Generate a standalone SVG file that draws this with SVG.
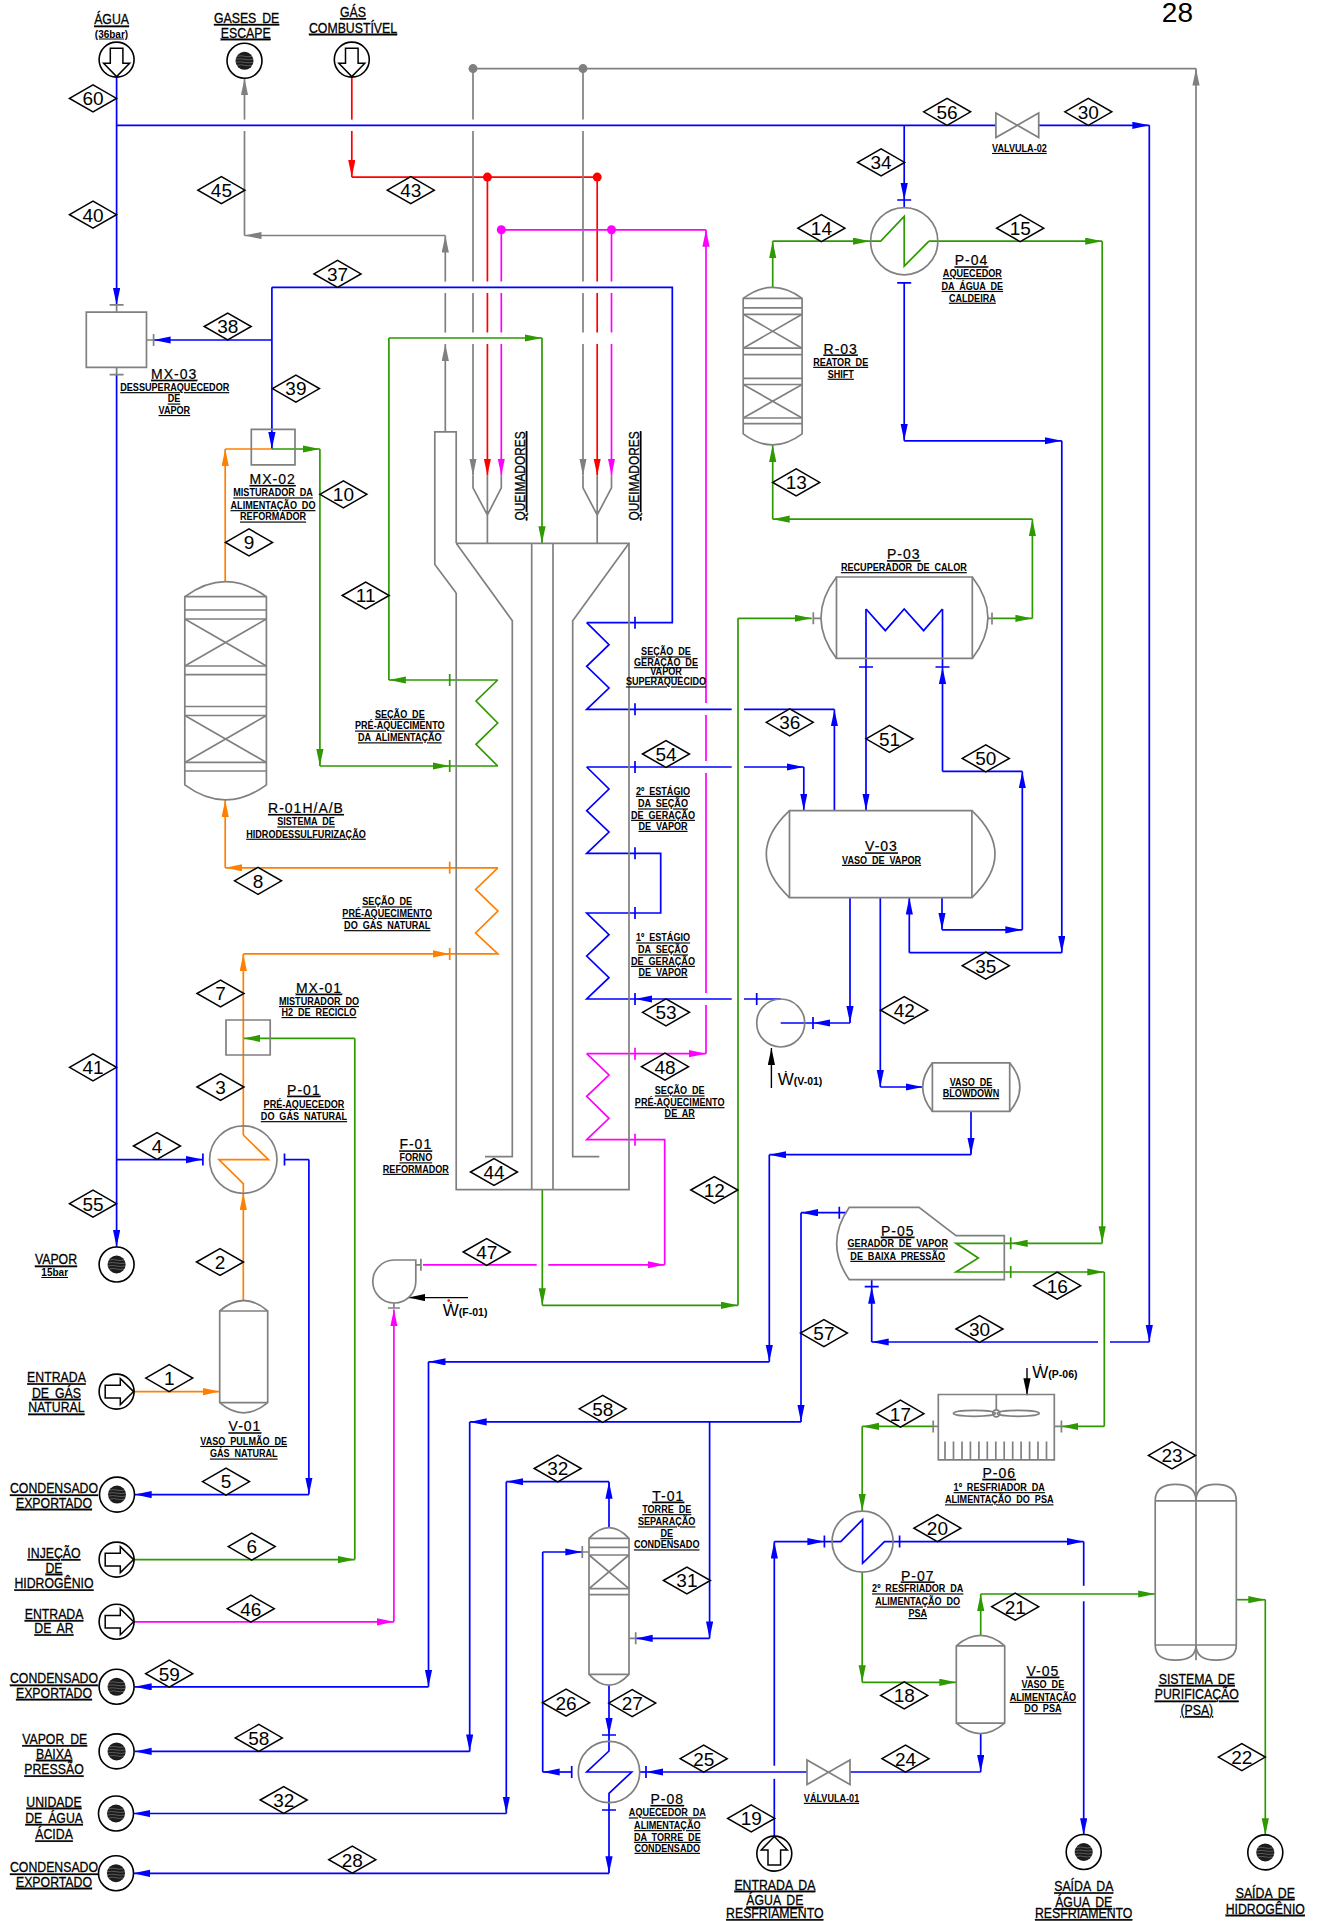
<svg xmlns="http://www.w3.org/2000/svg" width="1319" height="1921" viewBox="0 0 1319 1921">
<style>
text{font-family:"Liberation Sans",Arial,sans-serif;text-anchor:middle;fill:#000}
.n{font-size:19px}
.L,.S,.T,.Q{text-decoration:underline;transform-box:fill-box;transform-origin:center}
.L{font-size:15px;word-spacing:3px;transform:scaleX(.82);stroke:#000;stroke-width:.3}
.S{font-size:11.5px;font-weight:bold;word-spacing:3px;transform:scaleX(.79)}
.T{font-size:14px;letter-spacing:1px;stroke:#000;stroke-width:.2}
.X{font-size:10px;font-weight:bold;text-decoration:underline}
.Q{font-size:14px;transform:scaleX(.85);stroke:#000;stroke-width:.3}
.W{text-anchor:start;font-size:17px}
.W tspan{font-size:10.5px;font-weight:bold}
.P{font-size:28px}
path,polygon,circle,ellipse{fill:none;stroke-linejoin:miter}
.e path,.e circle,.e ellipse{stroke:#808080;stroke-width:1.7}
.c path{stroke-width:1.7}
.b,.B{stroke:#0000ff}.g,.G{stroke:#2e9900}.o,.O{stroke:#ff8000}.r,.R{stroke:#ff0000}.m,.M{stroke:#ff00ff}.a,.A{stroke:#808080}.K{stroke:#000}
.c .K{stroke-width:1.4}
.B{marker-end:url(#hb)}.G{marker-end:url(#hg)}.O{marker-end:url(#ho)}.R{marker-end:url(#hr)}.M{marker-end:url(#hm)}.A{marker-end:url(#ha)}.K{marker-end:url(#hk)}
.dia{fill:#fff;stroke:#000;stroke-width:1.5}
.ring{stroke:#000;stroke-width:1.6;fill:#fff}
.core{fill:#1c1c1c;stroke:none}
.hat{stroke:#777;stroke-width:.7}
.barr{stroke:#000;stroke-width:1.5;fill:#fff}
</style>
<defs>
<marker id="hb" markerUnits="userSpaceOnUse" markerWidth="18" markerHeight="8" refX="17" refY="3.6" orient="auto"><path d="M0 0L17 3.6L0 7.2Z" style="fill:#0000ff;stroke:none"/></marker>
<marker id="hg" markerUnits="userSpaceOnUse" markerWidth="18" markerHeight="8" refX="17" refY="3.6" orient="auto"><path d="M0 0L17 3.6L0 7.2Z" style="fill:#2e9900;stroke:none"/></marker>
<marker id="ho" markerUnits="userSpaceOnUse" markerWidth="18" markerHeight="8" refX="17" refY="3.6" orient="auto"><path d="M0 0L17 3.6L0 7.2Z" style="fill:#ff8000;stroke:none"/></marker>
<marker id="hr" markerUnits="userSpaceOnUse" markerWidth="18" markerHeight="8" refX="17" refY="3.6" orient="auto"><path d="M0 0L17 3.6L0 7.2Z" style="fill:#ff0000;stroke:none"/></marker>
<marker id="hm" markerUnits="userSpaceOnUse" markerWidth="18" markerHeight="8" refX="17" refY="3.6" orient="auto"><path d="M0 0L17 3.6L0 7.2Z" style="fill:#ff00ff;stroke:none"/></marker>
<marker id="ha" markerUnits="userSpaceOnUse" markerWidth="18" markerHeight="8" refX="17" refY="3.6" orient="auto"><path d="M0 0L17 3.6L0 7.2Z" style="fill:#808080;stroke:none"/></marker>
<marker id="hk" markerUnits="userSpaceOnUse" markerWidth="18" markerHeight="8" refX="17" refY="3.6" orient="auto"><path d="M0 0L17 3.6L0 7.2Z" style="fill:#000;stroke:none"/></marker>
<polygon id="dia" class="dia" points="-23.5,0 0,-13.5 23.5,0 0,13.5"/>
<g id="src"><circle class="ring" r="17.5"/><polygon class="barr" points="-6.3,-11.4 6.3,-11.4 6.3,3.7 13,3.7 0,17 -13,3.7 -6.3,3.7"/></g>
<g id="snk"><circle class="ring" r="17.5"/><circle class="core" r="9"/><path class="hat" d="M-7.5 -4.5Q-3 -5.5 0 -4.5T7.5 -4.5M-9 -1.5Q-4 -2.5 0 -1.5T9 -1.5M-9 1.5Q-4 .5 0 1.5T9 1.5M-7.5 4.5Q-3 3.5 0 4.5T7.5 4.5"/></g>
</defs>

<g id="connectors" class="c">
<!-- blue -->
<path class="B" d="M116.6 77V305"/>
<path class="b" d="M116.6 125.3H995.9"/>
<path class="B" d="M1038.7 125.3H1149.3"/>
<path class="B" d="M1149.3 125.3V1342"/>
<path class="b" d="M1149.3 1342H1110"/>
<path class="B" d="M1098 1342H871.7"/>
<path class="B" d="M871.7 1342V1286.7"/>
<path class="b" d="M871.7 1286.7V1279.7"/>
<path class="B" d="M904.2 125.3V200"/>
<path class="b" d="M904.2 200V207.6"/>
<path class="B" d="M904.2 283V440.8"/>
<path class="B" d="M904.2 440.8H1061.8"/>
<path class="B" d="M1061.8 440.8V952.7"/>
<path class="b" d="M1061.8 952.7H909.3"/>
<path class="B" d="M909.3 952.7V897.6"/>
<path class="b" d="M586.7 622.7H672.3V287.3H271.9"/>
<path class="B" d="M271.9 287.3V449"/>
<path class="B" d="M271.9 340H153.6"/>
<path class="b" d="M586.7 622.7L609 644.7L586.7 666.3L609 688L586.7 709.3H731.7"/>
<path class="b" d="M744 709.3H834.4"/>
<path class="B" d="M834.4 810.6V709.4"/>
<path class="b" d="M586.7 767H731.7"/>
<path class="B" d="M744 767H803.8"/>
<path class="B" d="M803.8 767V810.6"/>
<path class="b" d="M586.7 767L609 789L586.7 810.7L609 832L586.7 853.3H660.7V913H586.7L609 934.7L586.7 956L609 977.7L586.7 999H635"/>
<path class="B" d="M731.7 999H635"/>
<path class="b" d="M744 999H780.7"/>
<path class="B" d="M850 897.6V1023"/>
<path class="B" d="M850 1023H813"/>
<path class="b" d="M813 1023H780.7"/>
<path class="b" d="M942.5 609L923.6 630.6L904.2 609L885.3 630.6L866 609"/>
<path class="B" d="M866 609V810.6"/>
<path class="B" d="M942.5 771.4V667"/>
<path class="b" d="M942.5 667V609"/>
<path class="b" d="M942.5 771.4H1022.3"/>
<path class="B" d="M1022.3 929.8V771.4"/>
<path class="B" d="M942 929.8H1022.3"/>
<path class="B" d="M942 897.6V929.8"/>
<path class="B" d="M880.3 897.6V1087"/>
<path class="B" d="M880.3 1087H922.7"/>
<path class="B" d="M971 1111.4V1154.7"/>
<path class="B" d="M971 1154.7H769.3"/>
<path class="B" d="M769.3 1154.7V1361.8"/>
<path class="B" d="M769.3 1361.8H428.5"/>
<path class="B" d="M428.5 1361.8V1686.8"/>
<path class="B" d="M428.5 1686.8H134.7"/>
<path class="B" d="M116.6 1159.6H202.9"/>
<path class="b" d="M284.5 1159.6H308.9"/>
<path class="B" d="M308.9 1159.6V1494.6"/>
<path class="B" d="M308.9 1494.6H134.7"/>
<path class="B" d="M116.6 374.7V1247"/>
<path class="B" d="M846.7 1212.7H801"/>
<path class="B" d="M801 1212.7V1421.9"/>
<path class="B" d="M801 1421.9H469.7"/>
<path class="B" d="M469.7 1421.9V1751.4"/>
<path class="B" d="M469.7 1751.4H134.7"/>
<path class="B" d="M709.6 1421.9V1638.4"/>
<path class="B" d="M709.6 1638.4H635.7"/>
<path class="B" d="M609 1527.7V1481.7"/>
<path class="B" d="M609 1481.7H506.3"/>
<path class="B" d="M506.3 1481.7V1813.5"/>
<path class="B" d="M506.3 1813.5H133"/>
<path class="B" d="M609 1685.3V1735"/>
<path class="b" d="M609 1735V1751L586.7 1772H631.7L609 1793.3V1810"/>
<path class="B" d="M609 1810V1873.3"/>
<path class="B" d="M609 1873.3H133"/>
<path class="B" d="M571.7 1772H542.7"/>
<path class="b" d="M542.7 1772V1552"/>
<path class="B" d="M542.7 1552H582.3"/>
<path class="B" d="M807 1772H646"/>
<path class="b" d="M646 1772H640"/>
<path class="B" d="M980.7 1733.5V1772"/>
<path class="b" d="M980.7 1772H850"/>
<path class="b" d="M774.3 1836V1778.8"/>
<path class="B" d="M774.3 1765.7V1541.6"/>
<path class="B" d="M774.3 1541.6H824.4"/>
<path class="b" d="M824.4 1541.6H840.7L862.6 1519.6V1563.3L884.5 1541.6H899.6"/>
<path class="B" d="M899.6 1541.6H1083.7"/>
<path class="b" d="M1083.7 1541.6V1585.8"/>
<path class="B" d="M1083.7 1601.3V1835.2"/>
<!-- green -->
<path class="G" d="M497.7 680H388.9"/>
<path class="g" d="M388.9 680V338"/>
<path class="G" d="M388.9 338H542"/>
<path class="G" d="M542 338V543.3"/>
<path class="g" d="M497.7 680L476 701L497.7 723L476 744.3L497.7 766"/>
<path class="G" d="M271.9 449H319.9"/>
<path class="G" d="M319.9 449V766"/>
<path class="G" d="M319.9 766H449.7"/>
<path class="g" d="M449.7 766H497.7"/>
<path class="G" d="M542.3 1189.7V1305.3"/>
<path class="G" d="M542.3 1305.3H738"/>
<path class="g" d="M738 1305.3V618.3"/>
<path class="G" d="M738 618.3H811.7"/>
<path class="G" d="M772.7 287.3V241.2"/>
<path class="G" d="M772.7 241.2H870"/>
<path class="g" d="M870 241.2H880.7L904.2 216.3V266.1L929 241.2"/>
<path class="G" d="M929 241.2H1102.2"/>
<path class="G" d="M1102.2 241.2V1243.3"/>
<path class="G" d="M1102.2 1243.3H1010.7"/>
<path class="g" d="M1010.7 1243.3H956L978.3 1258L956 1272H1010.7"/>
<path class="G" d="M1010.7 1272H1104.3"/>
<path class="g" d="M1104.3 1272V1426.4"/>
<path class="G" d="M1104.3 1426.4H1061.4"/>
<path class="G" d="M1032.4 519.2H772.7"/>
<path class="G" d="M772.7 519.2V444.9"/>
<path class="G" d="M1032.4 618.4V519.2"/>
<path class="G" d="M992 618.4H1032.4"/>
<path class="G" d="M933.2 1426.4H862.2"/>
<path class="G" d="M862.2 1426.4V1511"/>
<path class="G" d="M862.2 1572.3V1682.3"/>
<path class="G" d="M862.2 1682.3H956.3"/>
<path class="G" d="M980.7 1635.7V1594"/>
<path class="G" d="M980.7 1594H1155.2"/>
<path class="G" d="M1236.3 1599.7H1265.3"/>
<path class="G" d="M1265.3 1599.7V1835.2"/>
<path class="G" d="M134 1559.6H354.8"/>
<path class="g" d="M354.8 1559.6V1038.4"/>
<path class="G" d="M354.8 1038.4H243.3"/>
<!-- orange -->
<path class="O" d="M134 1391.6H219.7"/>
<path class="O" d="M243.3 1300.4V1193"/>
<path class="o" d="M243.3 1193V1183.7L218.9 1159.6H268.5L243.3 1135"/>
<path class="O" d="M243.3 1135V953.9"/>
<path class="O" d="M243.3 953.9H449.7"/>
<path class="o" d="M449.7 953.9H497.9L475.6 933L497.9 911L475.6 889.4L497.9 867.8"/>
<path class="O" d="M497.9 867.8H225.2"/>
<path class="O" d="M225.2 867.8V800"/>
<path class="O" d="M225.2 581.6V449"/>
<path class="o" d="M225.2 449H271.9"/>
<!-- red -->
<path class="r" d="M351.8 77V119.6"/>
<path class="R" d="M351.8 131V177.1"/>
<path class="r" d="M351.8 177.1H597.2"/>
<path class="r" d="M487.4 177.1V281.6M487.4 293V332.6"/>
<path class="R" d="M487.4 344V475.5"/>
<path class="r" d="M597.2 177.1V281.6M597.2 293V332.6"/>
<path class="R" d="M597.2 344V475.5"/>
<!-- magenta -->
<path class="m" d="M501.3 229.8H705.8"/>
<path class="m" d="M501.3 229.8V281.6M501.3 293V332.6"/>
<path class="M" d="M501.3 344V475.5"/>
<path class="m" d="M611.5 229.8V281.6M611.5 293V332.6"/>
<path class="M" d="M611.5 344V475.5"/>
<path class="m" d="M423 1264.8H536.7"/>
<path class="M" d="M548.3 1264.8H664.7"/>
<path class="m" d="M664.7 1264.8V1139.7H586.7L609 1118.3L586.7 1096.3L609 1075L586.7 1053.7"/>
<path class="M" d="M586.7 1053.7H706"/>
<path class="m" d="M706 1053.7V1005M706 993V773M706 761V715"/>
<path class="M" d="M706 703V229.8"/>
<path class="M" d="M134 1621.8H393.9"/>
<path class="M" d="M393.9 1621.8V1309.4"/>
<!-- grey -->
<path class="a" d="M473 68.6H1196"/>
<path class="A" d="M1196 1484.4V68.6"/>
<path class="a" d="M473 68.6V119.6M473 131V281.6M473 293V332.6"/>
<path class="A" d="M473 344V475.5"/>
<path class="a" d="M583 68.6V119.6M583 131V281.6M583 293V332.6"/>
<path class="A" d="M583 344V475.5"/>
<path class="A" d="M445.3 431.8V344"/>
<path class="a" d="M445.3 332.6V293"/>
<path class="A" d="M445.3 281.6V235.5"/>
<path class="A" d="M445.3 235.5H244.5"/>
<path class="a" d="M244.5 235.5V131"/>
<path class="A" d="M244.5 119.6V78.3"/>
<path class="a" d="M146.5 340H153.6M582.3 1552H589M629 1638.3H635.7M813.3 618.3H821M988 618.4H992M933.2 1426.4H938.3M1054.3 1426.4H1061.4M415.8 1264.8H420.9M393.9 1303V1308M116.6 305V312.2M116.6 367.3V374.7"/>
<!-- ticks -->
<path class="b" d="M911.2 200H897.2M911.2 282.9H897.2M873 667H859M949.5 667H935.5M878.7 1286.7H864.7M616 1735H602M616 1810H602M635 616.7V628.7M635 703.3V715.3M635 761V773M635 847.3V859.3M635 907V919M635 993V1005M756.7 993V1005M813 1017V1029M202.9 1153.6V1165.6M284.5 1153.6V1165.6M839.3 1206.7V1218.7M571.7 1766V1778M646 1766V1778M824.4 1535.6V1547.6M899.6 1535.6V1547.6"/>
<path class="g" d="M449.7 674V686M449.7 760V772M1010.7 1237.3V1249.3M1010.7 1266V1278"/>
<path class="o" d="M449.7 861.8V873.8M449.7 947.9V959.9"/>
<path class="m" d="M635 1047.7V1059.7M635 1133.7V1145.7"/>
<path class="a" d="M109.6 304.9H123.6M109.6 374.7H123.6M153.6 334V346M582.3 1546V1558M635.7 1632.3V1644.3M813.3 612.3V624.3M992 612.4V624.4M933.2 1420.4V1432.4M1061.4 1420.4V1432.4M420.9 1258.8V1270.8M387.9 1308H399.9"/>
<!-- work arrows -->
<path class="K" d="M771.4 1088V1048"/>
<path class="K" d="M468 1297.6H408.3"/>
<path class="K" d="M1027 1368V1395.3"/>
</g>
<circle cx="473" cy="68.6" r="4.5" style="fill:#808080"/><circle cx="583" cy="68.6" r="4.5" style="fill:#808080"/>
<circle cx="487.4" cy="177.1" r="4.5" style="fill:#ff0000"/><circle cx="597.2" cy="177.1" r="4.5" style="fill:#ff0000"/>
<circle cx="501.3" cy="229.8" r="4.5" style="fill:#ff00ff"/><circle cx="611.5" cy="229.8" r="4.5" style="fill:#ff00ff"/>

<g id="F-01" class="e">
<path d="M456.2 593L434.8 564.5V431.8H456.2V543"/>
<path d="M456.2 593V1189.7H629V543.3H456.2"/>
<path d="M456.2 543.3L512.3 620.7V1156.7H485"/>
<path d="M629 543.3L572.7 620.7V1156.7H599.3"/>
<path d="M531.7 543.3V1189.7M553 543.3V1189.7"/>
<path d="M473 475.5V487.8L487.4 515L501.3 487.8V475.5M487.4 475.5V543.3"/>
<path d="M583 475.5V487.8L597.2 515L611.5 487.8V475.5M597.2 475.5V543.3"/>
<text class="T" x="415.8" y="1149.4">F-01</text><text class="S" x="415.8" y="1161.2">FORNO</text><text class="S" x="415.8" y="1172.7">REFORMADOR</text>
<g transform="translate(524.8 476) rotate(-90)"><text class="Q">QUEIMADORES</text></g>
<g transform="translate(638.9 476) rotate(-90)"><text class="Q">QUEIMADORES</text></g>
<text class="S" x="399.8" y="717.6">SEÇÃO DE</text><text class="S" x="399.8" y="729.4">PRÉ-AQUECIMENTO</text><text class="S" x="399.8" y="741.2">DA ALIMENTAÇÃO</text>
<text class="S" x="387.2" y="905.3">SEÇÃO DE</text><text class="S" x="387.2" y="916.7">PRÉ-AQUECIMENTO</text><text class="S" x="387.2" y="929">DO GÁS NATURAL</text>
<text class="S" x="666" y="655.3">SEÇÃO DE</text><text class="S" x="666" y="666">GERAÇÃO DE</text><text class="S" x="666" y="675.5">VAPOR</text><text class="S" x="666" y="685.3">SUPERAQUECIDO</text>
<text class="S" x="663" y="794.7">2º ESTÁGIO</text><text class="S" x="663" y="807.3">DA SEÇÃO</text><text class="S" x="663" y="818.7">DE GERAÇÃO</text><text class="S" x="663" y="829.7">DE VAPOR</text>
<text class="S" x="663" y="941.3">1º ESTÁGIO</text><text class="S" x="663" y="953.3">DA SEÇÃO</text><text class="S" x="663" y="964.7">DE GERAÇÃO</text><text class="S" x="663" y="975.7">DE VAPOR</text>
<text class="S" x="679.7" y="1094.3">SEÇÃO DE</text><text class="S" x="679.7" y="1106">PRÉ-AQUECIMENTO</text><text class="S" x="679.7" y="1116.7">DE AR</text>
</g>
<g id="MX-03" class="e"><path d="M86.3 312.2H146.5V367.3H86.3Z"/>
<text class="T" x="174.2" y="378.8">MX-03</text><text class="S" x="174.7" y="391">DESSUPERAQUECEDOR</text><text class="S" x="174" y="402.4">DE</text><text class="S" x="174.3" y="413.9">VAPOR</text></g>
<g id="MX-02" class="e"><path d="M251.3 429.4H295V464.9H251.3Z"/>
<text class="T" x="272.7" y="484">MX-02</text><text class="S" x="273" y="496.3">MISTURADOR DA</text><text class="S" x="273" y="509">ALIMENTAÇÃO DO</text><text class="S" x="273" y="520.4">REFORMADOR</text></g>
<g id="MX-01" class="e"><path d="M226 1020H270.2V1055H226Z"/>
<text class="T" x="319" y="992.7">MX-01</text><text class="S" x="319" y="1004.9">MISTURADOR DO</text><text class="S" x="319" y="1015.9">H2 DE RECICLO</text></g>
<g id="R-01" class="e"><path d="M184.8 596.7Q225.6 566.5 266.4 596.7V784.9Q225.6 815 184.8 784.9Z"/>
<path d="M184.8 596.7H266.4M184.8 610H266.4M184.8 619H266.4M184.8 666H266.4M184.8 674.7H266.4M184.8 706.5H266.4M184.8 715.5H266.4M184.8 762.4H266.4M184.8 771H266.4"/>
<path d="M184.8 619L266.4 666M266.4 619L184.8 666M184.8 715.5L266.4 762.4M266.4 715.5L184.8 762.4"/>
<text class="T" x="306" y="813">R-01H/A/B</text><text class="S" x="306" y="825.3">SISTEMA DE</text><text class="S" x="306" y="837.6">HIDRODESSULFURIZAÇÃO</text></g>
<g id="R-03" class="e"><path d="M743.2 298.4Q772.7 276.3 802.1 298.4V433.9Q772.7 456 743.2 433.9Z"/>
<path d="M743.2 298.4H802.1M743.2 307.8H802.1M743.2 314.3H802.1M743.2 348.2H802.1M743.2 354.7H802.1M743.2 378.4H802.1M743.2 384.5H802.1M743.2 418H802.1M743.2 423.7H802.1"/>
<path d="M743.2 314.3L802.1 348.2M802.1 314.3L743.2 348.2M743.2 384.5L802.1 418M802.1 384.5L743.2 418"/>
<text class="T" x="840.7" y="353.5">R-03</text><text class="S" x="840.7" y="365.7">REATOR DE</text><text class="S" x="840.7" y="377.6">SHIFT</text></g>
<g id="P-04" class="e"><circle cx="904.2" cy="241.2" r="33.6"/>
<text class="T" x="971.5" y="265.3">P-04</text><text class="S" x="972.3" y="277">AQUECEDOR</text><text class="S" x="972.3" y="289.8">DA ÁGUA DE</text><text class="S" x="972.3" y="301.6">CALDEIRA</text></g>
<g id="VALVULA-02" class="e"><path d="M995.9 113V137.6L1038.7 113V137.6Z"/><text class="S" x="1019.4" y="151.8">VALVULA-02</text></g>
<g id="P-03" class="e"><path d="M836.5 577H972.3V658.4H836.5Z"/><path d="M836.5 577Q805.5 617.7 836.5 658.4M972.3 577Q1003.5 617.7 972.3 658.4"/>
<text class="T" x="903.8" y="559.2">P-03</text><text class="S" x="903.8" y="571">RECUPERADOR DE CALOR</text></g>
<g id="V-03" class="e"><path d="M789.5 810.6H971.9V897.6H789.5Z"/><path d="M789.5 810.6Q743.1 854.1 789.5 897.6M971.9 810.6Q1018.1 854.1 971.9 897.6"/>
<text class="T" x="881.5" y="851.4">V-03</text><text class="S" x="881.5" y="863.7">VASO DE VAPOR</text></g>
<g id="V-01-bomba" class="e"><circle cx="780.7" cy="1023" r="24"/><text class="W" x="777.7" y="1085">Ẇ<tspan>(V-01)</tspan></text></g>
<g id="blowdown" class="e"><path d="M932.4 1062.9H1009.7V1111.4H932.4Z"/><path d="M932.4 1062.9Q913 1087.2 932.4 1111.4M1009.7 1062.9Q1030 1087.2 1009.7 1111.4"/>
<text class="S" x="971" y="1086">VASO DE</text><text class="S" x="971" y="1097">BLOWDOWN</text></g>
<g id="P-05" class="e"><path d="M849.3 1207.3H919L956 1235.7H1004.3V1279.7H849.3Q824 1243.5 849.3 1207.3Z"/>
<text class="T" x="897.7" y="1235.7">P-05</text><text class="S" x="897.7" y="1247.3">GERADOR DE VAPOR</text><text class="S" x="897.7" y="1259.7">DE BAIXA PRESSÃO</text></g>
<g id="P-01" class="e"><circle cx="243.3" cy="1159.6" r="33.7"/>
<text class="T" x="303.9" y="1094.7">P-01</text><text class="S" x="303.9" y="1107.8">PRÉ-AQUECEDOR</text><text class="S" x="303.9" y="1120">DO GÁS NATURAL</text></g>
<g id="V-01" class="e"><path d="M219.7 1311Q243.7 1290 267.7 1311V1402.6Q243.7 1423 219.7 1402.6Z"/><path d="M219.7 1311H267.7M219.7 1402.6H267.7"/>
<text class="T" x="245" y="1431.3">V-01</text><text class="S" x="243.7" y="1444.8">VASO PULMÃO DE</text><text class="S" x="243.7" y="1457.4">GÁS NATURAL</text></g>
<g id="soprador" class="e"><path d="M415.8 1260H394A21.5 21.5 0 1 0 415.8 1281.5Z"/>
<circle cx="448.7" cy="1300.5" r="1.3" style="fill:#f00;stroke:none"/><text class="W" x="442.8" y="1315.7">Ẇ<tspan>(F-01)</tspan></text></g>
<g id="T-01" class="e"><path d="M589 1538.3Q609 1517 629 1538.3V1674.3Q609 1696 589 1674.3Z"/>
<path d="M589 1538.3H629M589 1547.3H629M589 1555H629M589 1588.7H629M589 1594.7H629M589 1674.3H629M589 1555L629 1588.7M629 1555L589 1588.7"/>
<text class="T" x="668.3" y="1500.7">T-01</text><text class="S" x="666.7" y="1513">TORRE DE</text><text class="S" x="666.7" y="1525.3">SEPARAÇÃO</text><text class="S" x="666.7" y="1537">DE</text><text class="S" x="666.7" y="1548.3">CONDENSADO</text></g>
<g id="P-08" class="e"><circle cx="609" cy="1772" r="30.7"/>
<text class="T" x="667.3" y="1804">P-08</text><text class="S" x="667.3" y="1816.3">AQUECEDOR DA</text><text class="S" x="667.3" y="1829">ALIMENTAÇÃO</text><text class="S" x="667.3" y="1840.7">DA TORRE DE</text><text class="S" x="667.3" y="1851.7">CONDENSADO</text></g>
<g id="VALVULA-01" class="e"><path d="M807 1760V1784.5L850 1760V1784.5Z"/><text class="S" x="831.5" y="1801.7">VÁLVULA-01</text></g>
<g id="P-06" class="e"><path d="M938.3 1394.5H1054.3V1459.9H938.3Z"/><path d="M996.3 1394.5V1410M945 1441.5V1459.9M953.5 1441.5V1459.9M962 1441.5V1459.9M970.4 1441.5V1459.9M978.9 1441.5V1459.9M987.3 1441.5V1459.9M995.8 1441.5V1459.9M1004.2 1441.5V1459.9M1012.7 1441.5V1459.9M1021.1 1441.5V1459.9M1029.6 1441.5V1459.9M1038 1441.5V1459.9M1046.5 1441.5V1459.9"/>
<circle cx="996.3" cy="1413.3" r="3.5"/><ellipse cx="974.4" cy="1413.3" rx="21" ry="3"/><ellipse cx="1018.2" cy="1413.3" rx="21" ry="3"/>
<text class="W" x="1032.3" y="1378.3">Ẇ<tspan>(P-06)</tspan></text>
<text class="T" x="999.2" y="1477.9">P-06</text><text class="S" x="999.2" y="1491">1º RESFRIADOR DA</text><text class="S" x="999.2" y="1503.2">ALIMENTAÇÃO DO PSA</text></g>
<g id="P-07" class="e"><circle cx="862.6" cy="1541.6" r="30.5"/>
<text class="T" x="917.7" y="1580.5">P-07</text><text class="S" x="917.7" y="1592.3">2º RESFRIADOR DA</text><text class="S" x="917.7" y="1605.4">ALIMENTAÇÃO DO</text><text class="S" x="917.7" y="1616.9">PSA</text></g>
<g id="V-05" class="e"><path d="M956.3 1645.9Q980.5 1625 1004.7 1645.9V1723.2Q980.5 1744 956.3 1723.2Z"/><path d="M956.3 1645.9H1004.7M956.3 1723.2H1004.7"/>
<text class="T" x="1042.9" y="1675.7">V-05</text><text class="S" x="1042.9" y="1688">VASO DE</text><text class="S" x="1042.9" y="1700.7">ALIMENTAÇÃO</text><text class="S" x="1042.9" y="1712.1">DO PSA</text></g>
<g id="PSA" class="e"><path d="M1155.2 1500.8V1645M1236.3 1500.8V1645M1196 1484.4V1660.2M1155.2 1500.8H1236.3M1155.2 1645H1236.3"/>
<path d="M1155.2 1500.8Q1155.2 1484.4 1175.6 1484.4Q1196 1484.4 1196 1500.8Q1196 1484.4 1216 1484.4Q1236.3 1484.4 1236.3 1500.8"/>
<path d="M1155.2 1645Q1155.2 1660.2 1175.6 1660.2Q1196 1660.2 1196 1645Q1196 1660.2 1216 1660.2Q1236.3 1660.2 1236.3 1645"/>
<text class="L" x="1196.8" y="1683.9">SISTEMA DE</text><text class="L" x="1196.8" y="1699.5">PURIFICAÇÃO</text><text class="L" x="1196.8" y="1715">(PSA)</text></g>

<g id="agua"><use href="#src" x="116.6" y="59.6"/><text class="L" x="111.5" y="24.5">ÁGUA</text><text class="X" x="111.5" y="37.5">(36bar)</text></g>
<g id="gases"><use href="#snk" x="244.5" y="60.8"/><text class="L" x="246.6" y="22.9">GASES DE</text><text class="L" x="245.8" y="37.6">ESCAPE</text></g>
<g id="gas-comb"><use href="#src" x="351.8" y="59.6"/><text class="L" x="353" y="17">GÁS</text><text class="L" x="353" y="32.7">COMBUSTÍVEL</text></g>
<g id="vapor15"><use href="#snk" x="116.6" y="1264.5"/><text class="L" x="56" y="1264.5">VAPOR</text><text class="X" x="54.7" y="1276">15bar</text></g>
<g id="entrada-gn"><use href="#src" transform="translate(116.6 1391.6) rotate(-90)"/><text class="L" x="56.4" y="1382.2">ENTRADA</text><text class="L" x="56.4" y="1397.7">DE GÁS</text><text class="L" x="56.4" y="1412.5">NATURAL</text></g>
<g id="cond1"><use href="#snk" x="117" y="1494.6"/><text class="L" x="54" y="1493.4">CONDENSADO</text><text class="L" x="54" y="1507.7">EXPORTADO</text></g>
<g id="h2inj"><use href="#src" transform="translate(116.6 1559.6) rotate(-90)"/><text class="L" x="54" y="1558">INJEÇÃO</text><text class="L" x="54" y="1572.7">DE</text><text class="L" x="54" y="1588.3">HIDROGÊNIO</text></g>
<g id="ar"><use href="#src" transform="translate(116.6 1621.8) rotate(-90)"/><text class="L" x="54" y="1619">ENTRADA</text><text class="L" x="54" y="1633.2">DE AR</text></g>
<g id="cond2"><use href="#snk" x="116.6" y="1686.8"/><text class="L" x="54" y="1683.5">CONDENSADO</text><text class="L" x="54" y="1697.8">EXPORTADO</text></g>
<g id="vbp"><use href="#snk" x="116.6" y="1751.4"/><text class="L" x="54.7" y="1744">VAPOR DE</text><text class="L" x="54" y="1758.7">BAIXA</text><text class="L" x="54" y="1774.3">PRESSÃO</text></g>
<g id="acida"><use href="#snk" x="116" y="1813.5"/><text class="L" x="54" y="1806.6">UNIDADE</text><text class="L" x="54" y="1822.9">DE ÁGUA</text><text class="L" x="54" y="1839.3">ÁCIDA</text></g>
<g id="cond3"><use href="#snk" x="116" y="1873.2"/><text class="L" x="54" y="1872.4">CONDENSADO</text><text class="L" x="54" y="1886.7">EXPORTADO</text></g>
<g id="entrada-agua"><use href="#src" transform="translate(774.3 1853.6) rotate(180)"/><text class="L" x="774.8" y="1889.6">ENTRADA DA</text><text class="L" x="774.8" y="1905.5">ÁGUA DE</text><text class="L" x="774.8" y="1918">RESFRIAMENTO</text></g>
<g id="saida-agua"><use href="#snk" x="1083.7" y="1852"/><text class="L" x="1083.7" y="1891.2">SAÍDA DA</text><text class="L" x="1083.7" y="1907.1">ÁGUA DE</text><text class="L" x="1083.7" y="1918">RESFRIAMENTO</text></g>
<g id="saida-h2"><use href="#snk" x="1265.3" y="1852.4"/><text class="L" x="1265.3" y="1897.7">SAÍDA DE</text><text class="L" x="1265.3" y="1913.7">HIDROGÊNIO</text></g>

<g id="tags">
<g id="t60" transform="translate(93 98.4)"><use href="#dia"/><text class="n" y="6.8">60</text></g>
<g id="t40" transform="translate(93 214.7)"><use href="#dia"/><text class="n" y="6.8">40</text></g>
<g id="t45" transform="translate(221.4 190.2)"><use href="#dia"/><text class="n" y="6.8">45</text></g>
<g id="t43" transform="translate(410.8 190.2)"><use href="#dia"/><text class="n" y="6.8">43</text></g>
<g id="t37" transform="translate(337.5 273.9)"><use href="#dia"/><text class="n" y="6.8">37</text></g>
<g id="t38" transform="translate(227.7 326.5)"><use href="#dia"/><text class="n" y="6.8">38</text></g>
<g id="t39" transform="translate(295.9 388.6)"><use href="#dia"/><text class="n" y="6.8">39</text></g>
<g id="t10" transform="translate(343.4 494.3)"><use href="#dia"/><text class="n" y="6.8">10</text></g>
<g id="t9" transform="translate(249 542.4)"><use href="#dia"/><text class="n" y="6.8">9</text></g>
<g id="t11" transform="translate(365.7 595.5)"><use href="#dia"/><text class="n" y="6.8">11</text></g>
<g id="t56" transform="translate(947.1 111.8)"><use href="#dia"/><text class="n" y="6.8">56</text></g>
<g id="t30a" transform="translate(1088.3 111.8)"><use href="#dia"/><text class="n" y="6.8">30</text></g>
<g id="t34" transform="translate(881.1 162.4)"><use href="#dia"/><text class="n" y="6.8">34</text></g>
<g id="t14" transform="translate(821.4 228.2)"><use href="#dia"/><text class="n" y="6.8">14</text></g>
<g id="t15" transform="translate(1020.2 228.2)"><use href="#dia"/><text class="n" y="6.8">15</text></g>
<g id="t13" transform="translate(796.2 482.4)"><use href="#dia"/><text class="n" y="6.8">13</text></g>
<g id="t41" transform="translate(93 1067.3)"><use href="#dia"/><text class="n" y="6.8">41</text></g>
<g id="t55" transform="translate(93 1203.7)"><use href="#dia"/><text class="n" y="6.8">55</text></g>
<g id="t4" transform="translate(157 1146)"><use href="#dia"/><text class="n" y="6.8">4</text></g>
<g id="t7" transform="translate(220.5 993.5)"><use href="#dia"/><text class="n" y="6.8">7</text></g>
<g id="t3" transform="translate(220.5 1087)"><use href="#dia"/><text class="n" y="6.8">3</text></g>
<g id="t2" transform="translate(220 1262)"><use href="#dia"/><text class="n" y="6.8">2</text></g>
<g id="t8" transform="translate(258 880.8)"><use href="#dia"/><text class="n" y="6.8">8</text></g>
<g id="t44" transform="translate(494 1172)"><use href="#dia"/><text class="n" y="6.8">44</text></g>
<g id="t47" transform="translate(486.7 1252)"><use href="#dia"/><text class="n" y="6.8">47</text></g>
<g id="t48" transform="translate(665 1066.7)"><use href="#dia"/><text class="n" y="6.8">48</text></g>
<g id="t53" transform="translate(666 1012.3)"><use href="#dia"/><text class="n" y="6.8">53</text></g>
<g id="t54" transform="translate(666 754)"><use href="#dia"/><text class="n" y="6.8">54</text></g>
<g id="t36" transform="translate(789.7 722.3)"><use href="#dia"/><text class="n" y="6.8">36</text></g>
<g id="t12" transform="translate(714.3 1190)"><use href="#dia"/><text class="n" y="6.8">12</text></g>
<g id="t51" transform="translate(889.5 738.8)"><use href="#dia"/><text class="n" y="6.8">51</text></g>
<g id="t50" transform="translate(985.8 758.4)"><use href="#dia"/><text class="n" y="6.8">50</text></g>
<g id="t35" transform="translate(985.8 965.7)"><use href="#dia"/><text class="n" y="6.8">35</text></g>
<g id="t42" transform="translate(904.2 1010.2)"><use href="#dia"/><text class="n" y="6.8">42</text></g>
<g id="t57" transform="translate(823.9 1333.1)"><use href="#dia"/><text class="n" y="6.8">57</text></g>
<g id="t30b" transform="translate(979.5 1329)"><use href="#dia"/><text class="n" y="6.8">30</text></g>
<g id="t16" transform="translate(1057.2 1285.7)"><use href="#dia"/><text class="n" y="6.8">16</text></g>
<g id="t17" transform="translate(900.4 1413.7)"><use href="#dia"/><text class="n" y="6.8">17</text></g>
<g id="t20" transform="translate(937.4 1528.2)"><use href="#dia"/><text class="n" y="6.8">20</text></g>
<g id="t23" transform="translate(1172 1455.4)"><use href="#dia"/><text class="n" y="6.8">23</text></g>
<g id="t21" transform="translate(1015.2 1606.7)"><use href="#dia"/><text class="n" y="6.8">21</text></g>
<g id="t18" transform="translate(904.2 1695.4)"><use href="#dia"/><text class="n" y="6.8">18</text></g>
<g id="t24" transform="translate(905.5 1758.7)"><use href="#dia"/><text class="n" y="6.8">24</text></g>
<g id="t25" transform="translate(703.7 1758.7)"><use href="#dia"/><text class="n" y="6.8">25</text></g>
<g id="t19" transform="translate(751.2 1818.4)"><use href="#dia"/><text class="n" y="6.8">19</text></g>
<g id="t22" transform="translate(1241.8 1757.1)"><use href="#dia"/><text class="n" y="6.8">22</text></g>
<g id="t31" transform="translate(686.9 1580.5)"><use href="#dia"/><text class="n" y="6.8">31</text></g>
<g id="t1" transform="translate(169.2 1378.1)"><use href="#dia"/><text class="n" y="6.8">1</text></g>
<g id="t5" transform="translate(226 1481.6)"><use href="#dia"/><text class="n" y="6.8">5</text></g>
<g id="t6" transform="translate(251.7 1546.6)"><use href="#dia"/><text class="n" y="6.8">6</text></g>
<g id="t46" transform="translate(250.8 1608.7)"><use href="#dia"/><text class="n" y="6.8">46</text></g>
<g id="t59" transform="translate(169.2 1673.7)"><use href="#dia"/><text class="n" y="6.8">59</text></g>
<g id="t58a" transform="translate(258.8 1737.9)"><use href="#dia"/><text class="n" y="6.8">58</text></g>
<g id="t32a" transform="translate(283.7 1800)"><use href="#dia"/><text class="n" y="6.8">32</text></g>
<g id="t28" transform="translate(352.3 1859.7)"><use href="#dia"/><text class="n" y="6.8">28</text></g>
<g id="t58b" transform="translate(602.7 1408.8)"><use href="#dia"/><text class="n" y="6.8">58</text></g>
<g id="t32b" transform="translate(557.7 1468.5)"><use href="#dia"/><text class="n" y="6.8">32</text></g>
<g id="t26" transform="translate(566.1 1702.7)"><use href="#dia"/><text class="n" y="6.8">26</text></g>
<g id="t27" transform="translate(632.2 1703.1)"><use href="#dia"/><text class="n" y="6.8">27</text></g>
</g>
<text class="P" x="1177.4" y="22">28</text>
</svg>
